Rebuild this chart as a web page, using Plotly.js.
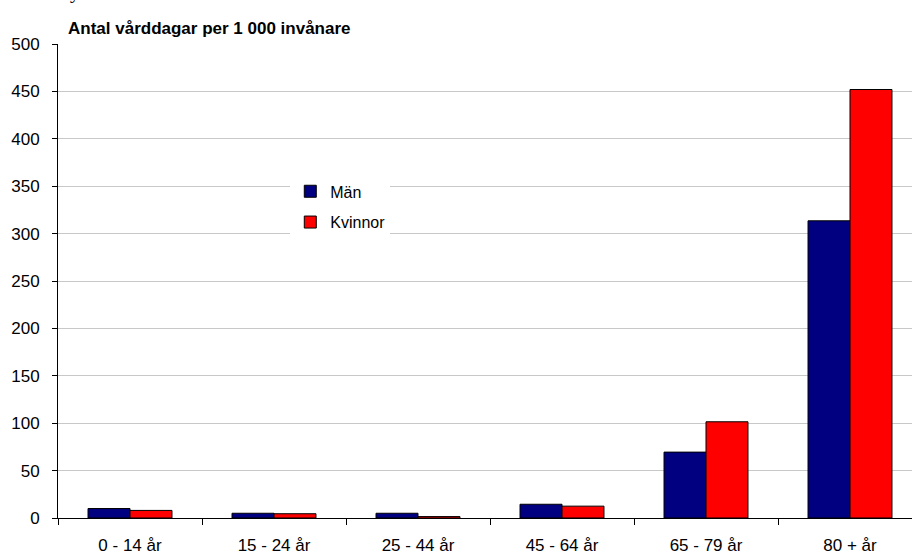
<!DOCTYPE html>
<html>
<head>
<meta charset="utf-8">
<script src="https://cdn.plot.ly/plotly-3.0.1.min.js"></script>
<style>html,body{margin:0;padding:0;background:#fff;}#chart{width:912px;height:555px;}</style>
</head>
<body>
<div id="chart"></div>
<script>
const categories = ["0 - 14 år", "15 - 24 år", "25 - 44 år", "45 - 64 år", "65 - 79 år", "80 + år"];
const man = [10, 5, 5, 14.5, 69.5, 313.5];
const kvinnor = [8, 4.5, 1.5, 12.5, 101.5, 452];
const yTicks = [0, 50, 100, 150, 200, 250, 300, 350, 400, 450, 500];
const titleText = "Antal vårddagar per 1 000 invånare";

const traces = [
  {type: "bar", name: "Män", x: categories, y: man, legendgroup: "a",
   marker: {color: "#000080", line: {color: "#000000", width: 1}}},
  {type: "bar", name: "Kvinnor", x: categories, y: kvinnor, legendgroup: "b",
   marker: {color: "#FF0000", line: {color: "#000000", width: 1}}}
];

const layout = {
  width: 912, height: 555,
  margin: {l: 58, r: 0, t: 44, b: 37, pad: 0},
  paper_bgcolor: "#ffffff", plot_bgcolor: "#ffffff",
  font: {family: "Liberation Sans, Arial, sans-serif", color: "#000000", size: 16},
  barmode: "group", bargap: 0.417, bargroupgap: 0,
  showlegend: true,
  legend: {x: 0.272, y: 0.725, xanchor: "left", yanchor: "top",
           bgcolor: "#ffffff", borderwidth: 0, font: {size: 16},
           traceorder: "grouped", tracegroupgap: 7, itemwidth: 30},
  xaxis: {type: "category", range: [-0.5, -0.5 + 854/144],
          showline: true, linecolor: "#000000", linewidth: 1,
          ticks: "outside", tickson: "boundaries", ticklen: 6, tickcolor: "#000000",
          showgrid: false, zeroline: false, fixedrange: true,
          tickfont: {size: 17}, ticklabelstandoff: 12},
  yaxis: {range: [0, 500], tickvals: yTicks, ticktext: yTicks.map(String),
          showline: true, linecolor: "#000000", linewidth: 1,
          ticks: "outside", ticklen: 5, tickcolor: "#000000",
          showgrid: true, gridcolor: "#c8c8c8", gridwidth: 1, zeroline: false,
          tickfont: {size: 17}, ticklabelstandoff: 9, fixedrange: true},
  annotations: [
    {text: "<b>" + titleText + "</b>", xref: "paper", yref: "paper", x: 0.009, y: 1,
     xanchor: "left", yanchor: "bottom", yshift: 4, showarrow: false,
     font: {size: 17, family: "Liberation Sans, Arial, sans-serif"}},
    {text: "y", xref: "paper", yref: "paper", x: 0.012, y: 1,
     xanchor: "left", yanchor: "middle", yshift: 53, showarrow: false,
     font: {size: 20, family: "Liberation Serif, serif"}}
  ]
};

Plotly.newPlot("chart", traces, layout, {displayModeBar: false, staticPlot: true});
</script>
</body>
</html>
